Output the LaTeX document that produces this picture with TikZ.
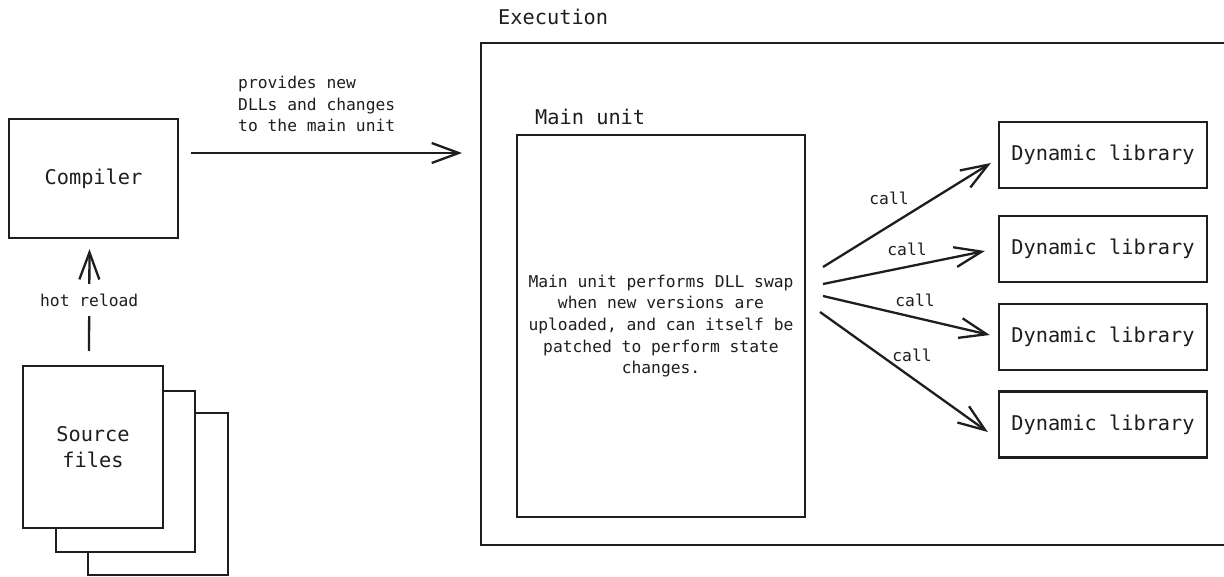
\documentclass[tikz,border=0pt]{standalone}
\usepackage{fontspec}
\usetikzlibrary{arrows.meta}
\newfontfamily\dejamono{DejaVu Sans Mono}
\newcommand\boxfont{\dejamono\fontsize{20.3}{25}\selectfont}
\newcommand\labfont{\dejamono\fontsize{16.3}{21.7}\selectfont}
\definecolor{ink}{HTML}{1E1E1E}
\tikzset{
  stroke/.style={draw=ink, line width=2.3pt},
  box/.style={stroke, rectangle, inner sep=0pt, fill=white, text=ink, font=\boxfont, align=center},
  lbl/.style={inner sep=0pt, text=ink, font=\labfont},
  arr/.style={stroke, -{Straight Barb[length=27pt,width=20pt,line width=2.3pt]}},
}
\begin{document}
\begin{tikzpicture}[x=1pt,y=-1pt]
  \clip (0,0) rectangle (1224,576);
  \fill[white] (0,0) rectangle (1224,576);

  % compiler
  \node[box, minimum width=169pt, minimum height=119pt] (compiler) at (93.5,178.5) {Compiler};

  % stack of source files
  \draw[stroke, fill=white] (88,413) rectangle (228,575);
  \draw[stroke, fill=white] (56,391) rectangle (195,552);
  \node[box, minimum width=140pt, minimum height=162pt] (src) at (93,447) {Source\\[1pt]files};

  \draw[arr] ([xshift=-4pt,yshift=14pt]src.north) --
    node[fill=white, lbl, inner xsep=0pt, inner ysep=10pt, text height=12pt, text depth=0pt] (hot) {hot reload}
    ([xshift=-4pt,yshift=-10pt]compiler.south);

  % execution area
  \node[anchor=base west, lbl, font=\boxfont] (exlabel) at (498,24) {Execution};
  \draw[stroke] (481,43) rectangle (1260,545);
  \coordinate (execin) at (462,153);

  \draw[arr] ([xshift=12pt,yshift=25.5pt]compiler.east) -- (execin);
  \node[lbl, anchor=west, align=left] (provides) at (238,104)
    {provides new\\DLLs and changes\\to the main unit};

  % main unit
  \node[anchor=base west, lbl, font=\boxfont] (mainlabel) at (535,124) {Main unit};
  \node[box, font=\labfont, minimum width=288pt, minimum height=382pt] (main) at (661,326)
    {Main unit performs DLL swap\\when new versions are\\uploaded, and can itself be\\patched to perform state\\changes.};

  % dynamic libraries
  \foreach \i/\y in {1/155, 2/249, 3/337, 4/424.5} {
    \node[box, minimum width=208pt, minimum height=66pt] (dl\i) at (1103,\y) {Dynamic library};
  }

  \coordinate (s1) at (823,267);
  \coordinate (s2) at (823,284);
  \coordinate (s3) at (823,296);
  \coordinate (s4) at (820,312);

  \draw[arr] (s1) -- ([xshift=-7pt,yshift=-8pt]dl1.west);
  \draw[arr] (s2) -- ([xshift=-13pt,yshift=-2pt]dl2.west);
  \draw[arr] (s3) -- ([xshift=-8pt,yshift=2pt]dl3.west);
  \draw[arr] (s4) -- ([xshift=-10pt,yshift=-7.5pt]dl4.west);

  \node[lbl] (c1) at (889,198) {call};
  \node[lbl] (c2) at (907,249) {call};
  \node[lbl] (c3) at (915,300) {call};
  \node[lbl] (c4) at (912,355) {call};
\end{tikzpicture}
\end{document}
